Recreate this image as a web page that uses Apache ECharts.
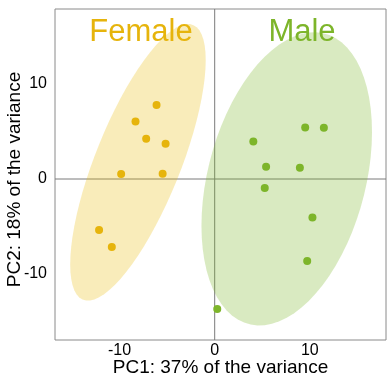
<!DOCTYPE html>
<html>
<head>
<meta charset="utf-8">
<script src="https://cdn.jsdelivr.net/npm/echarts@6/dist/echarts.min.js"></script>
<style>
  html, body { margin: 0; padding: 0; background: #ffffff; }
  #chart { width: 389px; height: 389px; }
</style>
</head>
<body>
<div id="chart"></div>
<script>
// PCA scores of the individuals, one pair of arrays per group
const groups = ['Female', 'Male'];
const femalePC1 = [-6.11, -8.32, -7.20, -5.16, -9.83, -5.47, -12.15, -10.81];
const femalePC2 = [7.79, 6.06, 4.24, 3.72, 0.53, 0.56, -5.37, -7.16];
const malePC1 = [9.51, 11.47, 4.06, 5.40, 8.95, 5.26, 10.27, 9.72, 0.27];
const malePC2 = [5.43, 5.40, 3.96, 1.29, 1.19, -0.95, -4.04, -8.63, -13.68];
const tickValues = [-10, 0, 10];
const xTitle = 'PC1: 37% of the variance';
const yTitle = 'PC2: 18% of the variance';

const colors = ['#E6B40C', '#7DB52A'];
const fills = ['rgba(231,184,0,0.27)', 'rgba(125,181,42,0.29)'];
const FONT = '"Liberation Sans", Arial, sans-serif';

function zip(xs, ys) { return xs.map((x, i) => [x, ys[i]]); }
const groupPoints = [zip(femalePC1, femalePC2), zip(malePC1, malePC2)];

// Robust multivariate t covariance (same iteration as MASS::cov.trob)
function covTrob(pts, nu = 5, maxit = 25, tol = 0.01) {
  const n = pts.length, p = 2;
  let loc = [0, 0];
  pts.forEach(q => { loc[0] += q[0] / n; loc[1] += q[1] / n; });
  let w = pts.map(() => 1);
  let X = [];
  for (let iter = 0; iter < maxit; iter++) {
    const w0 = w.slice();
    X = pts.map(q => [q[0] - loc[0], q[1] - loc[1]]);
    const sw = w.reduce((a, b) => a + b, 0);
    let sxx = 0, syy = 0, sxy = 0;
    X.forEach((d, i) => {
      sxx += w[i] * d[0] * d[0] / sw;
      syy += w[i] * d[1] * d[1] / sw;
      sxy += w[i] * d[0] * d[1] / sw;
    });
    const det = sxx * syy - sxy * sxy;
    w = X.map(d => {
      const Q = (syy * d[0] * d[0] - 2 * sxy * d[0] * d[1] + sxx * d[1] * d[1]) / det;
      return (nu + p) / (nu + Q);
    });
    const sw2 = w.reduce((a, b) => a + b, 0);
    loc = [0, 0];
    pts.forEach((q, i) => { loc[0] += w[i] * q[0] / sw2; loc[1] += w[i] * q[1] / sw2; });
    if (w.every((v, i) => Math.abs(v - w0[i]) < tol)) break;
  }
  let cxx = 0, cyy = 0, cxy = 0;
  X.forEach((d, i) => {
    cxx += w[i] * d[0] * d[0] / n;
    cyy += w[i] * d[1] * d[1] / n;
    cxy += w[i] * d[0] * d[1] / n;
  });
  return { center: loc, cov: [[cxx, cxy], [cxy, cyy]] };
}

// 95% ellipse outline in data units
function ellipsePath(pts, level = 0.95, segments = 72) {
  const { center, cov } = covTrob(pts);
  const d = pts.length - 1;
  const qf = d / 2 * (Math.pow(1 - level, -2 / d) - 1);   // F(2, d) quantile
  const radius = Math.sqrt(2 * qf);
  const a = Math.sqrt(cov[0][0]);
  const b = cov[0][1] / a;
  const c = Math.sqrt(cov[1][1] - b * b);
  const out = [];
  for (let k = 0; k < segments; k++) {
    const t = k * 2 * Math.PI / segments;
    out.push([
      center[0] + radius * a * Math.cos(t),
      center[1] + radius * (b * Math.cos(t) + c * Math.sin(t))
    ]);
  }
  return out;
}
const ellipses = groupPoints.map(p => ellipsePath(p));

const chart = echarts.init(document.getElementById('chart'), null, { renderer: 'canvas' });

const axisCommon = {
  type: 'value',
  axisLine: { show: false },
  axisTick: { show: false },
  splitLine: { show: false },
  nameLocation: 'middle',
  nameMoveOverlap: false
};

chart.setOption({
  animation: false,
  backgroundColor: '#ffffff',
  grid: {
    left: 55, top: 9, width: 331, height: 331,
    outerBoundsMode: 'none', containLabel: false,
    show: true, borderColor: '#8a8a8a', borderWidth: 1, backgroundColor: 'transparent'
  },
  xAxis: Object.assign({}, axisCommon, {
    min: -16.78, max: 18.0,
    name: xTitle, nameGap: 18,
    nameTextStyle: { color: '#000', fontSize: 19, fontFamily: FONT },
    axisLabel: { customValues: tickValues, color: '#000', fontSize: 16, fontFamily: FONT, margin: 3 }
  }),
  yAxis: Object.assign({}, axisCommon, {
    min: -16.95, max: 17.9,
    name: yTitle, nameGap: 31, nameRotate: 90,
    nameTextStyle: { color: '#000', fontSize: 19, fontFamily: FONT, padding: [0, 10, 0, 0] },
    axisLabel: { customValues: tickValues, color: '#000', fontSize: 16, fontFamily: FONT, margin: 8 }
  }),
  series: [
    {
      // zero reference lines
      type: 'custom',
      z: 1,
      silent: true,
      data: [[0, 0]],
      renderItem: function (params, api) {
        const o = api.coord([0, 0]);
        const cs = params.coordSys;
        return {
          type: 'group',
          children: [
            { type: 'line', shape: { x1: cs.x, y1: o[1], x2: cs.x + cs.width, y2: o[1] },
              style: { stroke: '#7a7a7a', lineWidth: 1 } },
            { type: 'line', shape: { x1: o[0], y1: cs.y, x2: o[0], y2: cs.y + cs.height },
              style: { stroke: '#7a7a7a', lineWidth: 1 } }
          ]
        };
      }
    },
    {
      // concentration ellipses
      type: 'custom',
      z: 2,
      silent: true,
      clip: true,
      data: groups.map((g, i) => [i]),
      renderItem: function (params, api) {
        const gi = api.value(0);
        return {
          type: 'polygon',
          shape: { points: ellipses[gi].map(p => api.coord(p)) },
          style: { fill: fills[gi], stroke: null }
        };
      }
    }
  ].concat(groups.map((g, i) => ({
    name: g,
    type: 'scatter',
    z: 3,
    symbol: 'circle',
    symbolSize: 8,
    itemStyle: { color: colors[i], opacity: 1 },
    data: groupPoints[i]
  }))),
  graphic: [
    { type: 'text', x: 141, y: 32, z: 10,
      style: { text: groups[0], fill: colors[0], font: '31px ' + FONT, align: 'center', verticalAlign: 'middle' } },
    { type: 'text', x: 302, y: 32, z: 10,
      style: { text: groups[1], fill: colors[1], font: '31px ' + FONT, align: 'center', verticalAlign: 'middle' } }
  ]
});
</script>
</body>
</html>
